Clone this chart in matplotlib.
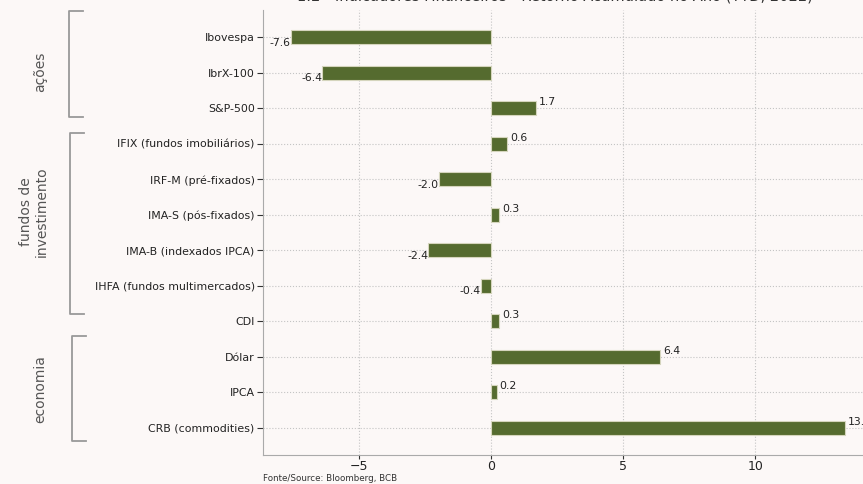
import matplotlib
matplotlib.use('Agg')
import matplotlib.pyplot as plt
import matplotlib.transforms as mtransforms
from matplotlib.lines import Line2D

# Dados
categorias = ['Ibovespa', 'IbrX-100', 'S&P-500', 'IFIX (fundos imobiliários)',
              'IRF-M (pré-fixados)', 'IMA-S (pós-fixados)', 'IMA-B (indexados IPCA)',
              'IHFA (fundos multimercados)', 'CDI', 'Dólar', 'IPCA', 'CRB (commodities)']
retornos = [-7.6, -6.4, 1.7, 0.6, -2.0, 0.3, -2.4, -0.4, 0.3, 6.4, 0.2, 13.4]
grupos = ['ações', 'fundos de\ninvestimento', 'economia']
titulo = '1.2 - Indicadores Financeiros - Retorno Acumulado no Ano (YTD, 2022)'
fonte = 'Fonte/Source: Bloomberg, BCB'

bg = '#fcf8f7'
verde = '#556b2f'

fig = plt.figure(figsize=(8.63, 4.84), dpi=100, facecolor=bg)
ax = fig.add_axes([263/863, 29/484, 610/863, 445/484], facecolor=bg)

y = range(len(categorias))
ax.barh(y, retornos, height=0.4, color=verde, edgecolor='#d5d5bd', linewidth=0.8)
ax.set_yticks(list(y))
ax.set_yticklabels(categorias, fontsize=7.9)
ax.invert_yaxis()
ax.tick_params(axis='x', labelsize=9, colors='#333333', length=3, pad=0.5)
ax.tick_params(axis='y', colors='#333333', length=4, pad=2)
for lab in ax.get_xticklabels() + ax.get_yticklabels():
    lab.set_color('#222222')

ax.grid(True, linestyle=':', color='#c4c4c4', linewidth=0.8)
ax.set_axisbelow(True)
for s in ['top', 'right']:
    ax.spines[s].set_visible(False)
for s in ['left', 'bottom']:
    ax.spines[s].set_color('#aaaaaa')

# Rótulos das barras
for i, v in enumerate(retornos):
    if v < 0:
        ax.text(v, i + 0.15, f'{v:.1f}', ha='right', va='center', fontsize=7.8, color='#222222')
    else:
        ax.text(v + 0.1, i - 0.17, f'{v:.1f}', ha='left', va='center', fontsize=7.8, color='#222222')

# Chaves dos grupos
trans = mtransforms.blended_transform_factory(fig.transFigure, ax.transData)
faixas = [(-0.75, 2.25, 69), (2.7, 7.8, 70), (8.42, 11.38, 72)]
centros = [(0.96, 40), (4.9, 34), (9.9, 40)]
for (y0, y1, xp), g, (yc, xc) in zip(faixas, grupos, centros):
    x0 = xp / 863
    x1 = (xp + 14) / 863
    fig.add_artist(Line2D([x1, x0, x0, x1], [y0, y0, y1, y1], transform=trans,
                          color='#999999', linewidth=1.3, clip_on=False))
    fig.text(xc / 863, yc, g, transform=trans, rotation=90, ha='center', va='center',
             fontsize=10, color='#555555', multialignment='center')

fig.text(555 / 863, 0.993, titulo, ha='center', va='bottom', fontsize=10.5, color='#333333')
fig.text(263 / 863, 1 / 484, fonte, ha='left', va='bottom', fontsize=6.3, color='#333333')

fig.savefig('out.png', dpi=100, facecolor=bg)
